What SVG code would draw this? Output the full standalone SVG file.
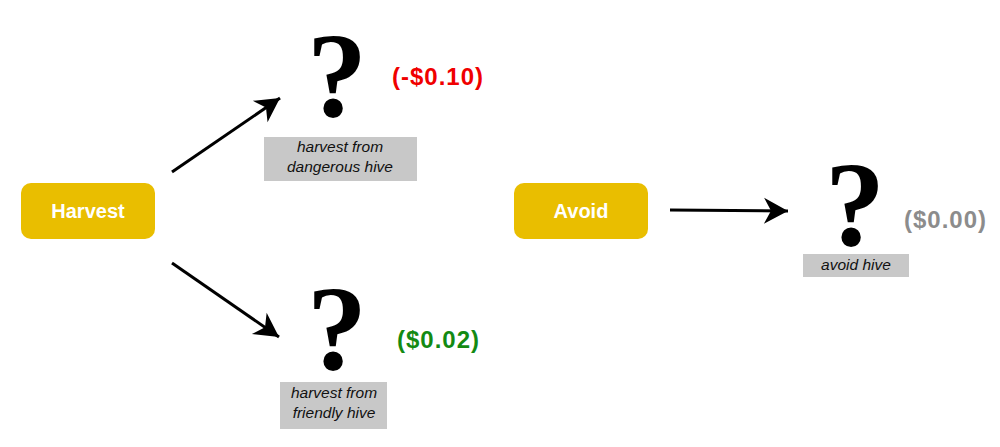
<svg xmlns="http://www.w3.org/2000/svg" width="1000" height="447" viewBox="0 0 1000 447">
<defs>
<style>
.box{fill:#E9BE00;}
.btxt{font-family:"Liberation Sans",Arial,sans-serif;font-weight:bold;font-size:20px;fill:#fff;text-anchor:middle;}
.q{font-family:"Liberation Serif","Times New Roman",serif;font-weight:bold;font-size:120px;fill:#000;text-anchor:middle;}
.lbl{fill:#C8C8C8;}
.ltxt{font-family:"Liberation Sans",Arial,sans-serif;font-style:italic;font-size:15.5px;fill:#111;text-anchor:middle;}
.val{font-family:"Liberation Sans",Arial,sans-serif;font-weight:bold;font-size:24px;letter-spacing:1px;}
.conn{stroke:#000;stroke-width:3;fill:none;marker-end:url(#ah);}
</style>
<marker id="ah" markerUnits="userSpaceOnUse" markerWidth="30" markerHeight="30" viewBox="-26 -15 28 30" refX="0" refY="0" orient="auto">
<path d="M0,0 L-24,-13 L-17,0 L-24,13 Z" fill="#000"/>
</marker>
</defs>
<rect width="1000" height="447" fill="#fff"/>
<g id="connectors">
<line class="conn" x1="172" y1="172" x2="280" y2="98"/>
<line class="conn" x1="172" y1="263" x2="279" y2="337"/>
<line class="conn" x1="670" y1="210" x2="788" y2="211"/>
</g>
<g id="harvest">
<rect class="box" x="21" y="183" width="134" height="56" rx="10"/>
<text class="btxt" x="88" y="218">Harvest</text>
</g>
<g id="avoid">
<rect class="box" x="514" y="183" width="134" height="56" rx="10"/>
<text class="btxt" x="581" y="218">Avoid</text>
</g>
<g id="dangerous">
<text class="q" x="337" y="116">?</text>
<rect class="lbl" x="264" y="137" width="153" height="44"/>
<text class="ltxt" x="340" y="152">harvest from</text>
<text class="ltxt" x="340" y="172">dangerous hive</text>
<text class="val" x="392" y="85" fill="#F00000">(-$0.10)</text>
</g>
<g id="friendly">
<text class="q" x="337" y="369">?</text>
<rect class="lbl" x="280" y="382" width="107" height="47"/>
<text class="ltxt" x="334" y="398">harvest from</text>
<text class="ltxt" x="334" y="418">friendly hive</text>
<text class="val" x="397" y="348" fill="#138A13">($0.02)</text>
</g>
<g id="avoidhive">
<text class="q" x="855" y="245">?</text>
<rect class="lbl" x="803" y="254" width="106" height="23"/>
<text class="ltxt" x="856" y="270">avoid hive</text>
<text class="val" x="904" y="228" fill="#8C8C8C">($0.00)</text>
</g>
</svg>
